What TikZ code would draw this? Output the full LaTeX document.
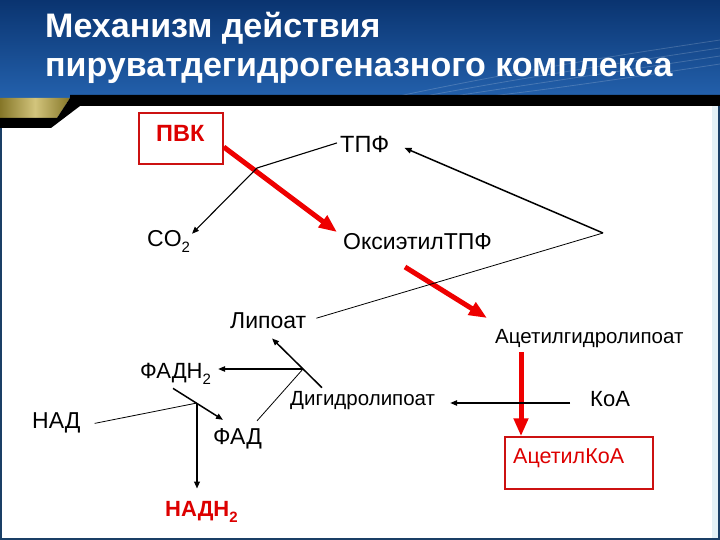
\documentclass[tikz,border=0pt]{standalone}
\usepackage{fontspec}
\setmainfont{Liberation Sans}
\usetikzlibrary{arrows.meta}
\definecolor{hdrtop}{HTML}{0A3470}
\definecolor{hdrbot}{HTML}{2462AE}
\definecolor{golddk}{HTML}{857628}
\definecolor{goldlt}{HTML}{D2C47C}
\definecolor{boxred}{HTML}{CC1111}
\definecolor{arrred}{HTML}{EE0000}
\definecolor{txtred}{HTML}{DD0000}
\definecolor{framec}{HTML}{1A3F66}
\definecolor{stripc}{HTML}{E4F1F6}
\newcommand\fsz[1]{\fontsize{#1}{#1}\selectfont}
\begin{document}
\begin{tikzpicture}[x=1pt,y=-1pt,
  lbl/.style={inner sep=0pt, anchor=base west, font=\fsz{22}},
  thinln/.style={draw=black, line width=0.8pt},
  conn/.style={draw=black, line width=1.3pt},
  arr/.style={conn, -{Triangle[length=7pt,width=5.5pt]}},
  redarr/.style={draw=arrred, line width=5pt, -{Triangle[length=18pt,width=14pt]}},
  redbox/.style={draw=boxred, line width=1.5pt, inner sep=0pt}]
\useasboundingbox (0,0) rectangle (720,540);
% background
\fill[white] (0,0) rectangle (720,540);
\shade[top color=hdrtop, bottom color=hdrbot] (0,0) rectangle (720,100);
\foreach \o in {0,8,16,24}
  \draw[white, opacity=0.18, line width=0.8pt] (380+\o*3,100) .. controls (520,70+\o) and (620,55+\o) .. (720,40+\o);
% black bar and gold band
\shade[left color=golddk, right color=golddk, middle color=goldlt] (0,98) -- (70,98) -- (57,118) -- (0,118) -- cycle;
\fill[black] (70,95) -- (720,95) -- (720,106) -- (80,106) -- (51,128) -- (0,128) -- (0,118) -- (57,118) -- (70,98) -- cycle;
% frame
\fill[stripc] (712,106) rectangle (719,540);
\draw[framec, line width=1.5pt] (1,128) -- (1,539) -- (719,539) -- (719,106);
% title
\node[lbl, font=\bfseries\fsz{34}, text=white] (t1) at (45,38) {Механизм действия};
\node[lbl, font=\bfseries\fsz{34}, text=white] (t2) at (45,77) {пируватдегидрогеназного комплекса};
% nodes
\node[redbox, minimum width=84pt, minimum height=51pt] (pvk) at (181,138.5) {};
\node[lbl, font=\bfseries\fsz{23.5}, text=txtred] (pvkt) at (156,142) {ПВК};
\node[lbl, font=\fsz{23.5}] (tpf) at (340,153) {ТПФ};
\node[lbl, font=\fsz{23}] (co2) at (147,246) {CO\raisebox{-0.28em}{\fsz{15}2}};
\node[lbl, font=\fsz{23}] (oks) at (343,249) {ОксиэтилТПФ};
\node[lbl, font=\fsz{23}] (lip) at (230,328) {Липоат};
\node[lbl, font=\fsz{20.5}] (acg) at (495,343) {Ацетилгидролипоат};
\node[lbl] (fadh) at (140,378) {ФАДН\raisebox{-0.28em}{\fsz{15}2}};
\node[lbl, font=\fsz{23}] (nad) at (32,428) {НАД};
\node[lbl, font=\fsz{20.5}] (dgl) at (290,405) {Дигидролипоат};
\node[lbl, font=\fsz{23}] (fad) at (213,444) {ФАД};
\node[lbl, font=\bfseries\fsz{22}, text=txtred] (nadh) at (165,516) {НАДН\raisebox{-0.28em}{\fsz{15}2}};
\node[lbl] (koa) at (590,406) {КоА};
\node[redbox, minimum width=148pt, minimum height=52pt] (acbox) at (579,463) {};
\node[lbl, font=\fsz{21.5}, text=txtred] (ackoa) at (513,463) {АцетилКоА};
% junction coordinates
\coordinate (jt) at (257,168);
\coordinate (jr) at (603,233);
\coordinate (jd) at (303,369);
\coordinate (jn) at (197,403);
\coordinate (fe) at ([xshift=7pt]fadh.east);
\coordinate (ke) at ([xshift=-20pt]koa.west);
\coordinate (de) at ([xshift=15pt]dgl.east);
% red arrows
\draw[redarr] ([yshift=-8.5pt]pvk.east) -- ([xshift=-6pt,yshift=9pt]oks.west);
\draw[redarr] (405,267) -- (487,318);
\draw[redarr] (521,352) -- ([xshift=-58pt]acbox.north);
% black connectors
\draw[arr, line width=1.1pt] ([xshift=-3pt,yshift=2pt]tpf.west) -- (jt) -- ([xshift=45pt,yshift=-4pt]co2.north west);
\draw[arr, line width=1.5pt] (jr) -- ([xshift=15pt,yshift=-3pt]tpf.east);
\draw[thinln] (jr) -- ([xshift=10pt,yshift=2pt]lip.east);
\draw[arr, line width=1.5pt] ([xshift=32pt,yshift=3pt]dgl.north west) -- ([xshift=42pt,yshift=-10pt]lip.south west);
\draw[arr, line width=1.2pt] (jd) -- (fe |- jd);
\draw[thinln] (jd) -- ([xshift=44pt,yshift=7pt]fad.north west);
\draw[arr, line width=1.5pt] ([xshift=33pt,yshift=-4pt]fadh.south west) -- ([xshift=10pt,yshift=8pt]fad.north west);
\draw[thinln] ([xshift=14pt,yshift=-1pt]nad.east) -- (jn);
\draw[arr, line width=1.8pt] (jn) -- ([xshift=32pt,yshift=12pt]nadh.north west);
\draw[arr, line width=1.2pt] (ke |- jn) -- (de |- jn);
\end{tikzpicture}
\end{document}
